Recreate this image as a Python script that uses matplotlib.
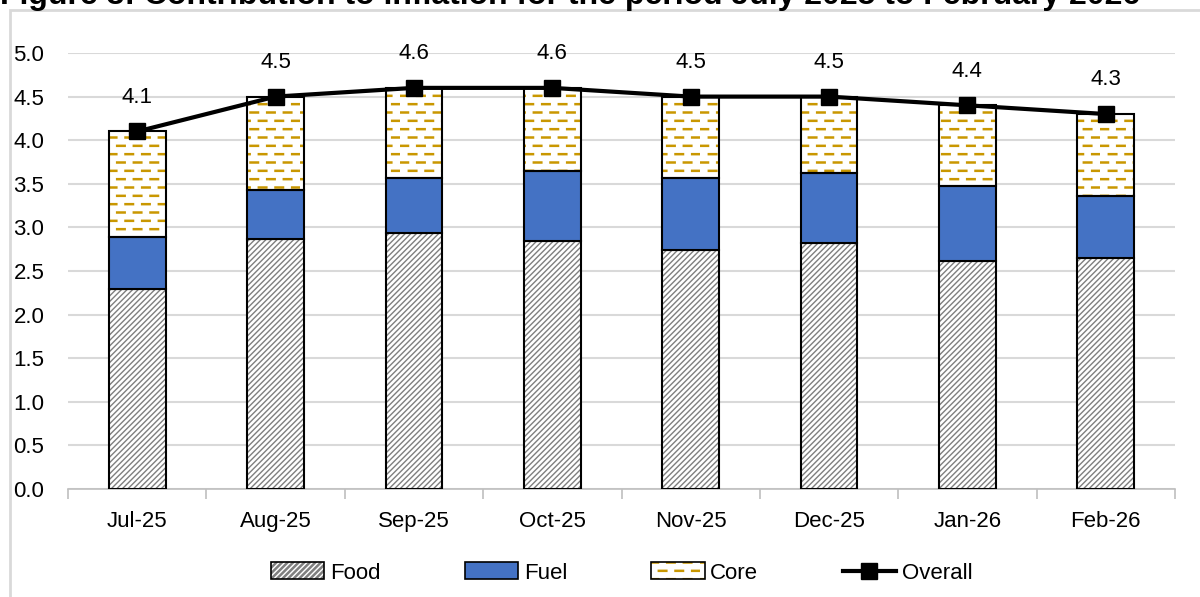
import matplotlib
matplotlib.use("Agg")
import matplotlib.pyplot as plt
import matplotlib.hatch as mhatch
from matplotlib.patches import Rectangle
from matplotlib.lines import Line2D
from matplotlib.legend_handler import HandlerTuple
import numpy as np
import warnings

warnings.filterwarnings("ignore")

months = ["Jul-25", "Aug-25", "Sep-25", "Oct-25", "Nov-25", "Dec-25", "Jan-26", "Feb-26"]
food = [2.29, 2.87, 2.94, 2.84, 2.74, 2.82, 2.61, 2.65]
fuel = [0.60, 0.56, 0.63, 0.81, 0.83, 0.80, 0.86, 0.71]
core = [1.21, 1.07, 1.03, 0.95, 0.93, 0.88, 0.93, 0.94]
overall = [4.1, 4.5, 4.6, 4.6, 4.5, 4.5, 4.4, 4.3]

plt.rcParams["font.family"] = ["Liberation Sans", "DejaVu Sans"]


# dashed "brick" hatch for the core bars, drawn with the letter 'd'
class DashHatch(mhatch.HatchPatternBase):
    def __init__(self, hatch, density):
        self.on = "d" in hatch
        self.rows = 12
        self.cols = 6
        self.num_vertices = self.rows * self.cols * 2 if self.on else 0

    def set_vertices_and_codes(self, vertices, codes):
        k = 0
        for i in range(self.rows):
            y = (i + 0.5) / self.rows
            shift = (i % 2) / (2 * self.cols)
            for j in range(self.cols):
                x0 = j / self.cols + shift + 0.005
                vertices[k] = (x0, y)
                vertices[k + 1] = (x0 + 0.075, y)
                codes[k] = 1
                codes[k + 1] = 2
                k += 2


mhatch._hatch_types.append(DashHatch)

fig = plt.figure(figsize=(12, 5.97), dpi=100)
ax = fig.add_axes([68 / 1200, 1 - 489 / 597, (1175 - 68) / 1200, (489 - 53) / 597])

x = np.arange(len(months))
w = 0.41
gold = "#C99700"


def hatched(bottom, vals, hatch, hcolor, hlw):
    plt.rcParams["hatch.linewidth"] = hlw
    bars = ax.bar(x, vals, w, bottom=bottom, color="white", edgecolor=hcolor,
                  hatch=hatch, linewidth=0, zorder=2)
    for b in bars:
        if hasattr(b, "set_hatch_linewidth"):
            b.set_hatch_linewidth(hlw)
    ax.bar(x, vals, w, bottom=bottom, fill=False, edgecolor="black", linewidth=1.5, zorder=3)


hatched(0, food, "//////", "#7F7F7F", 1.0)
ax.bar(x, fuel, w, bottom=food, color="#4472C4", edgecolor="black", linewidth=1.5, zorder=3)
bottom2 = np.array(food) + np.array(fuel)
hatched(bottom2, core, "d", gold, 1.8)

ax.plot(x, overall, color="black", linewidth=3, marker="s", markersize=12, zorder=5)
for xi, v in zip(x, overall):
    ax.annotate(f"{v:.1f}", (xi, v), xytext=(0, 17), textcoords="offset points",
                ha="center", va="bottom", fontsize=16)

ax.set_xlim(-0.5, len(months) - 0.5)
ax.set_ylim(0, 5.0)
yt = np.arange(0, 5.01, 0.5)
ax.set_yticks(yt)
ax.set_yticklabels([f"{t:.1f}" for t in yt], fontsize=16)
ax.set_xticks(x)
ax.set_xticklabels(months, fontsize=16)
ax.set_xticks(np.arange(-0.5, len(months)), minor=True)
ax.tick_params(axis="x", which="major", length=0, pad=16)
ax.tick_params(axis="x", which="minor", length=7, color="#BFBFBF", width=1.2)
ax.tick_params(axis="y", length=0, pad=17)
ax.yaxis.grid(True, color="#D9D9D9", linewidth=1.5, zorder=0)
ax.set_axisbelow(True)
for s in ["top", "right", "left"]:
    ax.spines[s].set_visible(False)
ax.spines["bottom"].set_color("#BFBFBF")
ax.spines["bottom"].set_linewidth(1.2)

# legend (hatch + black outline overlaid)
plt.rcParams["hatch.linewidth"] = 1.0
h_food = Rectangle((0, 0), 1, 1, facecolor="white", edgecolor="#7F7F7F", hatch="//////", linewidth=0)
plt.rcParams["hatch.linewidth"] = 1.8
h_core = Rectangle((0, 0), 1, 1, facecolor="white", edgecolor=gold, hatch="d", linewidth=0)
h_box1 = Rectangle((0, 0), 1, 1, fill=False, edgecolor="black", linewidth=1.2)
h_box2 = Rectangle((0, 0), 1, 1, fill=False, edgecolor="black", linewidth=1.2)
h_fuel = Rectangle((0, 0), 1, 1, facecolor="#4472C4", edgecolor="black", linewidth=1.2)
h_line = Line2D([], [], color="black", linewidth=3, marker="s", markersize=12)
fig.legend([(h_food, h_box1), h_fuel, (h_core, h_box2), h_line],
           ["Food", "Fuel", "Core", "Overall"],
           handler_map={tuple: HandlerTuple(ndivide=1, pad=0)},
           loc="center", bbox_to_anchor=(0.518, 1 - 573 / 597), ncol=4, frameon=False,
           fontsize=16, handlelength=2.4, handleheight=0.8, handletextpad=0.25,
           columnspacing=3.8)

# outer chart border and clipped title
fig.patches.append(Rectangle((10 / 1200, -0.05), 1.1, 1 - 10 / 597 + 0.05,
                             transform=fig.transFigure, fill=False,
                             edgecolor="#D9D9D9", linewidth=2, zorder=0))
fig.text(0.0, 1 - 4 / 597, "Figure 3: Contribution to inflation for the period July 2025 to February 2026",
         fontsize=23, fontweight="bold", ha="left", va="baseline")

fig.savefig("out.png", dpi=100)
